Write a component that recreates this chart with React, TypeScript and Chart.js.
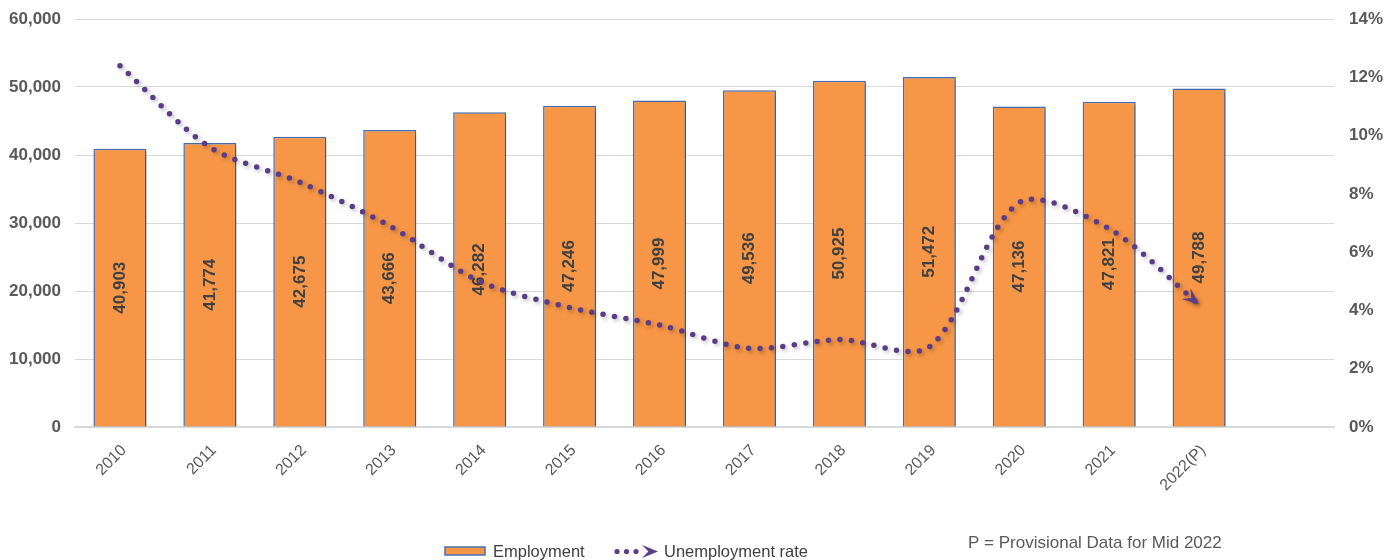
import React, { useEffect, useRef } from "react";
import { Chart, registerables } from "chart.js";

Chart.register(...registerables);

const categories = ["2010", "2011", "2012", "2013", "2014", "2015", "2016", "2017", "2018", "2019", "2020", "2021", "2022(P)", ""];
const employment = [40903, 41774, 42675, 43666, 46282, 47246, 47999, 49536, 50925, 51472, 47136, 47821, 49788];
const unemploymentRate = [12.4, 9.6, 8.4, 6.9, 5.0, 4.1, 3.5, 2.7, 3.0, 2.75, 7.7, 6.8, 4.2];
const leftTickValues = [0, 10000, 20000, 30000, 40000, 50000, 60000];
const rightTickValues = [0, 2, 4, 6, 8, 10, 12, 14];
const seriesNames = ["Employment", "Unemployment rate"];
const noteText = "P = Provisional Data for Mid 2022";

const FONT = "'Liberation Sans', Arial, sans-serif";
const BAR_FILL = "#F79646";
const BAR_BORDER = "#4A6FB5";
const LINE_COLOR = "#5B3D87";
const TEXT_DARK = "#404040";
const TEXT_GRAY = "#595959";

function drawStealth(ctx: CanvasRenderingContext2D, x: number, y: number, angle: number, len: number, halfW: number) {
  const dx = Math.cos(angle), dy = Math.sin(angle);
  const px = -dy, py = dx;
  ctx.beginPath();
  ctx.moveTo(x, y);
  ctx.lineTo(x - len * dx + halfW * px, y - len * dy + halfW * py);
  ctx.lineTo(x - len * 0.6 * dx, y - len * 0.6 * dy);
  ctx.lineTo(x - len * dx - halfW * px, y - len * dy - halfW * py);
  ctx.closePath();
  ctx.fill();
}

const customPlugin = {
  id: "customDraw",
  beforeDatasetDraw(chart: any, args: any) {
    const ctx = chart.ctx;
    ctx.save();
    ctx.shadowColor = "rgba(0,0,0,0.28)";
    ctx.shadowBlur = 4;
    ctx.shadowOffsetX = 2;
    ctx.shadowOffsetY = 2;
  },
  afterDatasetDraw(chart: any, args: any) {
    const ctx = chart.ctx;
    if (args.index === 1) {
      const meta = args.meta;
      const pts = meta.data;
      const last = pts[pts.length - 1];
      let cx = last.cp1x, cy = last.cp1y;
      if (cx === undefined || (Math.abs(cx - last.x) < 0.01 && Math.abs(cy - last.y) < 0.01)) {
        cx = pts[pts.length - 2].x;
        cy = pts[pts.length - 2].y;
      }
      const ang = Math.atan2(last.y - cy, last.x - cx);
      ctx.fillStyle = LINE_COLOR;
      drawStealth(ctx, last.x, last.y, ang, 17, 7);
    }
    ctx.restore();
    if (args.index === 0) {
      const meta = args.meta;
      ctx.save();
      ctx.font = `bold 17px ${FONT}`;
      ctx.fillStyle = TEXT_DARK;
      ctx.textAlign = "center";
      ctx.textBaseline = "middle";
      meta.data.forEach((el: any, i: number) => {
        const v = employment[i];
        if (v == null) return;
        const cy = (el.y + el.base) / 2;
        ctx.save();
        ctx.translate(el.x, cy);
        ctx.rotate(-Math.PI / 2);
        ctx.fillText(v.toLocaleString("en-US"), 0, 0);
        ctx.restore();
      });
      ctx.restore();
    }
  },
  afterDraw(chart: any) {
    const ctx = chart.ctx;
    ctx.save();
    ctx.fillStyle = BAR_FILL;
    ctx.strokeStyle = BAR_BORDER;
    ctx.lineWidth = 1.5;
    ctx.fillRect(445, 547, 40, 8);
    ctx.strokeRect(445, 547, 40, 8);
    ctx.font = `16.5px ${FONT}`;
    ctx.fillStyle = TEXT_DARK;
    ctx.textAlign = "left";
    ctx.textBaseline = "middle";
    ctx.fillText(seriesNames[0], 493, 552);
    ctx.fillStyle = LINE_COLOR;
    [617, 626.5, 636].forEach((x) => {
      ctx.beginPath();
      ctx.arc(x, 551.5, 2.6, 0, Math.PI * 2);
      ctx.fill();
    });
    drawStealth(ctx, 658, 551.5, 0, 16, 6.5);
    ctx.fillStyle = TEXT_DARK;
    ctx.fillText(seriesNames[1], 664, 552);
    ctx.font = `17px ${FONT}`;
    ctx.fillStyle = TEXT_GRAY;
    ctx.fillText(noteText, 968, 543);
    ctx.restore();
  },
};

export default function App() {
  const ref = useRef<HTMLCanvasElement | null>(null);
  useEffect(() => {
    if (!ref.current) return;
    const chart = new Chart(ref.current, {
      type: "bar",
      data: {
        labels: categories,
        datasets: [
          {
            type: "bar",
            label: seriesNames[0],
            data: employment,
            backgroundColor: BAR_FILL,
            borderColor: BAR_BORDER,
            borderWidth: 1.5,
            barPercentage: 0.59,
            categoryPercentage: 1,
            yAxisID: "y",
            order: 1,
          },
          {
            type: "line",
            label: seriesNames[1],
            data: unemploymentRate,
            borderColor: LINE_COLOR,
            backgroundColor: LINE_COLOR,
            borderWidth: 5.5,
            borderDash: [0, 11.5],
            borderCapStyle: "round",
            tension: 0.3,
            pointRadius: 0,
            yAxisID: "y1",
            order: 0,
          },
        ],
      } as any,
      options: {
        responsive: false,
        animation: false,
        layout: { padding: { top: 19, left: 0, right: 0, bottom: 0 } },
        plugins: {
          legend: { display: false },
          tooltip: { enabled: false },
        },
        scales: {
          x: {
            offset: true,
            grid: { display: false, drawTicks: false },
            border: { display: true, color: "#D9D9D9", width: 2 },
            ticks: {
              autoSkip: false,
              maxRotation: 45,
              minRotation: 45,
              padding: 14,
              labelOffset: 4,
              color: TEXT_GRAY,
              font: { family: FONT, size: 16 },
            },
            afterFit: (s: any) => { s.height = 133; },
          },
          y: {
            position: "left",
            min: 0,
            max: 60000,
            afterBuildTicks: (s: any) => { s.ticks = leftTickValues.map((v) => ({ value: v })); },
            grid: { color: "#D9D9D9", lineWidth: 1, drawTicks: false },
            border: { display: false },
            ticks: {
              padding: 14,
              color: TEXT_GRAY,
              font: { family: FONT, size: 17, weight: "bold" },
              callback: (v: any) => Number(v).toLocaleString("en-US"),
            },
            afterFit: (s: any) => { s.width = 75; s.paddingTop = 0; s.paddingBottom = 0; },
          },
          y1: {
            position: "right",
            min: 0,
            max: 14,
            afterBuildTicks: (s: any) => { s.ticks = rightTickValues.map((v) => ({ value: v })); },
            grid: { display: false, drawTicks: false },
            border: { display: false },
            ticks: {
              padding: 15,
              color: TEXT_GRAY,
              font: { family: FONT, size: 17, weight: "bold" },
              callback: (v: any) => `${v}%`,
            },
            afterFit: (s: any) => { s.width = 61; s.paddingTop = 0; s.paddingBottom = 0; },
          },
        },
      } as any,
      plugins: [customPlugin],
    });
    return () => chart.destroy();
  }, []);
  return (
    <div style={{ position: "absolute", left: 0, top: 0, width: 1395, height: 560, background: "#fff" }}>
      <canvas ref={ref} width={1395} height={560} style={{ display: "block" }} />
    </div>
  );
}
